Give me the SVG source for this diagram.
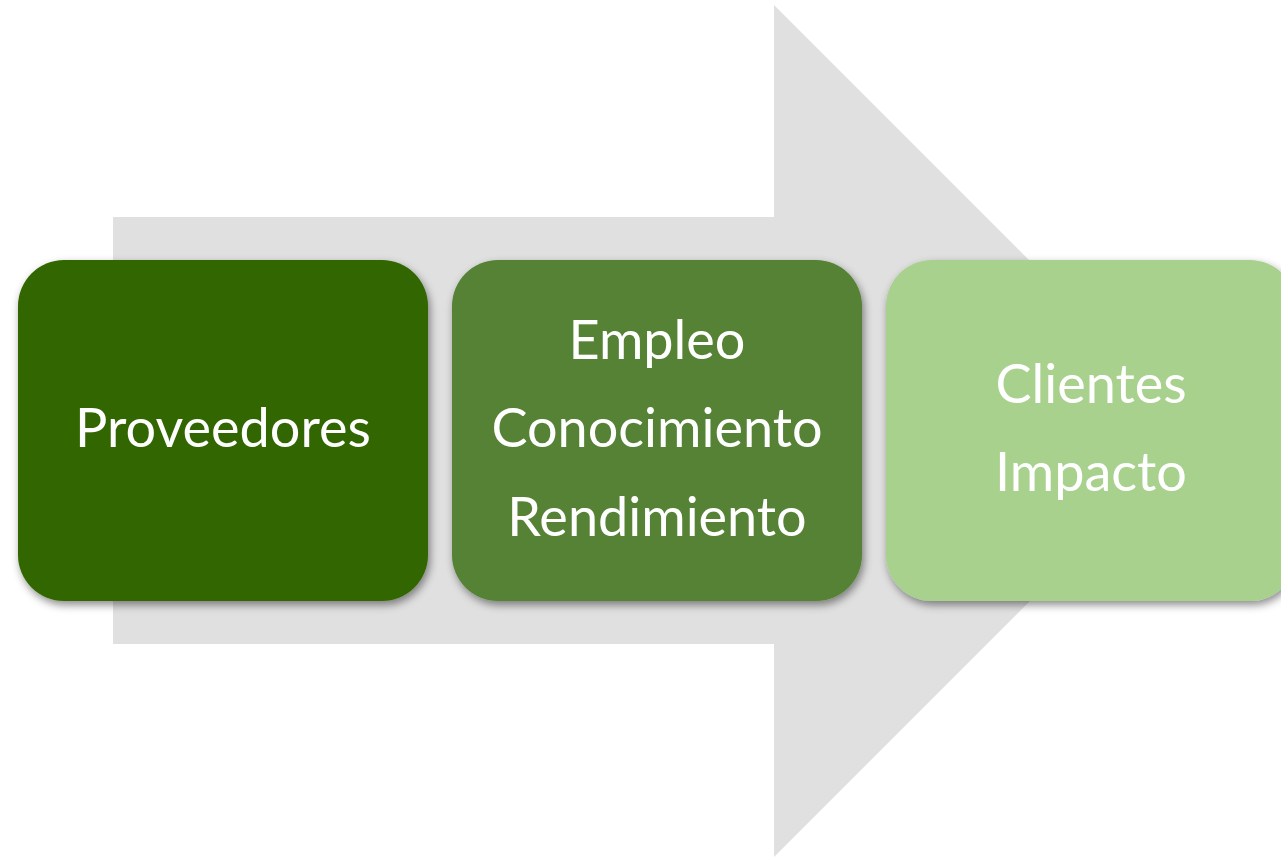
<svg xmlns="http://www.w3.org/2000/svg" width="1281" height="857" viewBox="0 0 1281 857">
<style>
.box{filter:url(#sh)}
.t{font-family:Lato,"Liberation Sans",sans-serif;font-size:54px;fill:#FFFFFF;text-anchor:middle}
</style>
<defs>
<filter id="sh" x="-10%" y="-10%" width="130%" height="130%">
<feDropShadow dx="2" dy="4" stdDeviation="4" flood-color="#000" flood-opacity="0.45"/>
</filter>
</defs>
<rect width="1281" height="857" fill="#FFFFFF"/>
<g id="arrow">
<polygon points="113,217 774,217 774,5 1200,431 774,857 774,644 113,644" fill="#E0E0E0"/>
</g>
<g id="connectors"></g>
<g id="node1">
<rect class="box" x="18" y="260" width="410" height="341" rx="46" fill="#336600"/>
<text class="t" x="223" y="447">Proveedores</text>
</g>
<g id="node2">
<rect class="box" x="452" y="260" width="410" height="341" rx="46" fill="#548235"/>
<text class="t" x="657" y="359">Empleo</text>
<text class="t" x="657" y="447">Conocimiento</text>
<text class="t" x="657" y="536">Rendimiento</text>
</g>
<g id="node3">
<rect class="box" x="886" y="260" width="410" height="341" rx="46" fill="#A9D18E"/>
<text class="t" x="1091" y="403">Clientes</text>
<text class="t" x="1091" y="491">Impacto</text>
</g>
</svg>
